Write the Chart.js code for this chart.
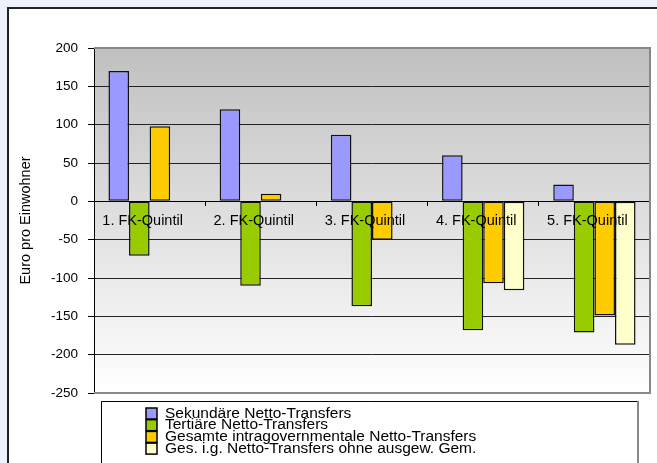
<!DOCTYPE html>
<html>
<head>
<meta charset="utf-8">
<script src="https://cdn.jsdelivr.net/npm/chart.js@4/dist/chart.umd.min.js"></script>
<style>
  html, body { margin: 0; padding: 0; background: #EEF2FA; }
  canvas { display: block; }
</style>
</head>
<body>
<canvas id="transfers" width="657" height="463"></canvas>
<script>
// Netto-Transfers je Finanzkraft-Quintil (Euro pro Einwohner)
var QUINTILS = ["1. FK-Quintil", "2. FK-Quintil", "3. FK-Quintil", "4. FK-Quintil", "5. FK-Quintil"];
var SEKUNDAER = [170, 120, 87, 60, 22];
var TERTIAER = [-71, -110, -137, -168, -171];
var GESAMT = [98, 10, -50, -107, -149];
var OHNE_GEM = [null, null, null, -116, -187];
var Y_MIN = -250, Y_MAX = 200, Y_STEP = 50;

var FONT = '"Liberation Sans", Arial, sans-serif';
Chart.defaults.font.family = FONT;
Chart.defaults.color = "#000";

// background, white frame, grey gradient behind the plot
var frame = {
  id: "frame",
  beforeDraw: function (chart) {
    var c = chart.ctx, a = chart.chartArea;
    c.save();
    c.fillStyle = "#EEF2FA";
    c.fillRect(0, 0, chart.width, chart.height);
    c.fillStyle = "#fff";
    c.fillRect(8, 8, chart.width - 8, chart.height - 8);
    c.strokeStyle = "#222";
    c.lineWidth = 2;
    c.beginPath();
    c.moveTo(8, chart.height);
    c.lineTo(8, 8);
    c.lineTo(chart.width, 8);
    c.stroke();
    var g = c.createLinearGradient(0, a.top, 0, a.bottom);
    g.addColorStop(0, "#C0C0C0");
    g.addColorStop(1, "#FFFFFF");
    c.fillStyle = g;
    c.fillRect(a.left, a.top, a.right - a.left, a.bottom - a.top);
    c.restore();
  },
  afterDraw: function (chart) {
    var c = chart.ctx, a = chart.chartArea;
    c.save();
    // plot border (grey, top / right / bottom)
    c.strokeStyle = "#888";
    c.lineWidth = 2;
    c.beginPath();
    c.moveTo(a.left, a.top);
    c.lineTo(a.right, a.top);
    c.lineTo(a.right, a.bottom);
    c.lineTo(a.left, a.bottom);
    c.stroke();

    // legend box
    var lx = 101, ly = 401, lw = 537;
    c.fillStyle = "#fff";
    c.fillRect(lx, ly, lw, chart.height - ly);
    c.strokeStyle = "#000";
    c.lineWidth = 1;
    c.beginPath();
    c.moveTo(lx + 0.5, chart.height);
    c.lineTo(lx + 0.5, ly + 0.5);
    c.lineTo(lx + lw, ly + 0.5);
    c.stroke();
    c.strokeStyle = "#888";
    c.lineWidth = 2;
    c.beginPath();
    c.moveTo(lx + lw, ly);
    c.lineTo(lx + lw, chart.height);
    c.stroke();

    c.font = "15.5px " + FONT;
    c.textBaseline = "middle";
    chart.data.datasets.forEach(function (ds, i) {
      var y = 413 + i * 11.7;
      c.fillStyle = ds.backgroundColor;
      c.fillRect(146, y - 5, 11, 11);
      c.strokeStyle = "#000";
      c.lineWidth = 1.5;
      c.strokeRect(146, y - 5, 11, 11);
      c.fillStyle = "#000";
      c.fillText(ds.label, 165, y + 0.5);
    });
    c.restore();
  }
};

var ctx = document.getElementById("transfers").getContext("2d");
var chart = new Chart(ctx, {
  type: "bar",
  data: {
    labels: QUINTILS,
    datasets: [
      { label: "Sekundäre Netto-Transfers", data: SEKUNDAER, backgroundColor: "#9999FF" },
      { label: "Tertiäre Netto-Transfers", data: TERTIAER, backgroundColor: "#99CC00" },
      { label: "Gesamte intragovernmentale Netto-Transfers", data: GESAMT, backgroundColor: "#FFCC00" },
      { label: "Ges. i.g. Netto-Transfers ohne ausgew. Gem.", data: OHNE_GEM, backgroundColor: "#FFFFCC" }
    ]
  },
  options: {
    responsive: false,
    animation: false,
    layout: { padding: { left: 0, top: 48, right: 7, bottom: 70 } },
    datasets: {
      bar: {
        borderColor: "#111",
        borderWidth: 1.5,
        borderSkipped: false,
        categoryPercentage: 0.74,
        barPercentage: 1
      }
    },
    plugins: {
      legend: { display: false },
      tooltip: { enabled: false }
    },
    scales: {
      x: {
        type: "category",
        position: { y: 0 },
        grid: { drawOnChartArea: false, offset: true, tickLength: 4, color: "#000", lineWidth: 1 },
        border: { display: true, color: "#000", width: 1 },
        ticks: { z: 1, font: { size: 14.5 }, padding: 7, labelOffset: -7, maxRotation: 0, autoSkip: false, color: "#000" }
      },
      y: {
        min: Y_MIN,
        max: Y_MAX,
        ticks: { stepSize: Y_STEP, font: { size: 13.5 }, padding: 10, color: "#000" },
        grid: { color: "#222", lineWidth: 1, tickLength: 6, tickColor: "#000" },
        border: { color: "#000", width: 1 },
        title: {
          display: true,
          text: "Euro pro Einwohner",
          font: { size: 14.5 },
          color: "#000",
          padding: { top: 17, bottom: 0 }
        },
        afterFit: function (scale) { scale.width = 94; }
      }
    }
  },
  plugins: [frame]
});
</script>
</body>
</html>
